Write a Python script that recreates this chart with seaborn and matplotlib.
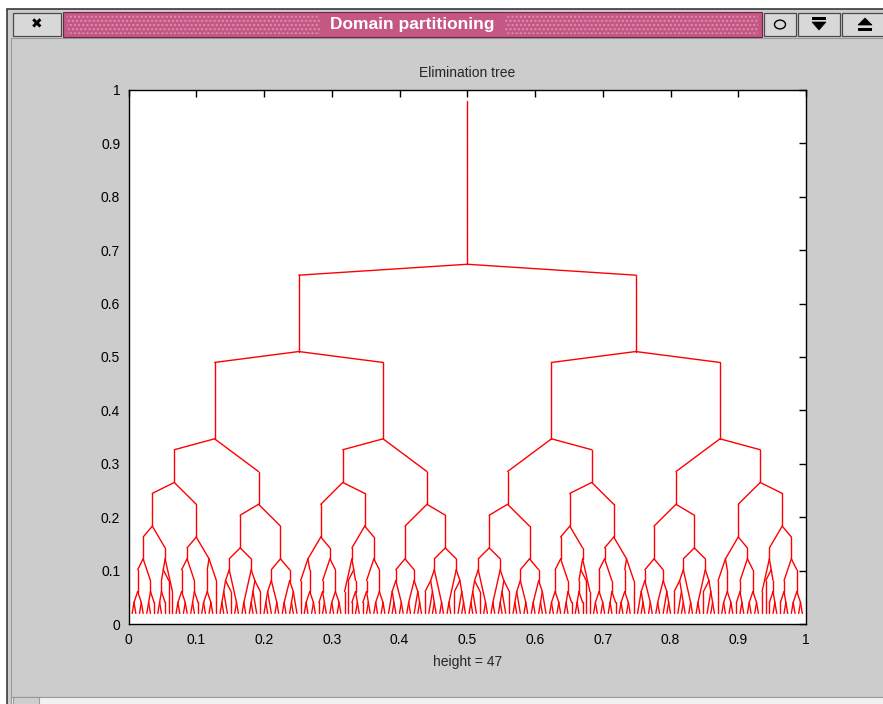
import matplotlib
matplotlib.use("Agg")
import matplotlib.pyplot as plt
from matplotlib.patches import Rectangle, Polygon, Circle
import numpy as np
import pandas as pd
import seaborn as sns

# ---------------------------------------------------------------------------
# Elimination tree, written as nested (chain_length, [children]) pieces.
# A piece is a vertical chain of nodes whose last node carries the children.
# ---------------------------------------------------------------------------
# small blocks near the leaves
LEAF = (1, [])
P2 = (2, [])
P3 = (3, [])
P4 = (4, [])
LAM = (1, [LEAF, LEAF])
FORK = (1, [LAM, LEAF])
H3 = (2, [LAM, P2])
K3 = (1, [FORK, P3])
B3 = (3, [LAM, LAM])
K4 = (2, [FORK, LAM])
K4B = (2, [LAM, FORK])
M4 = (1, [H3, P4])
N5 = (2, [H3, P3])
R5 = (1, [B3, P4])
G5 = (2, [K3, LAM])
G5B = (2, [LAM, K3])

# mid-level subtrees
A1 = (4, [(3, [B3, H3]), (2, [M4, P3])])
A2 = (4, [(2, [B3, H3]), R5])
B1 = (4, [G5, G5B])
B2 = (4, [K4, K4B])
DEEP = (4, [A1, A2])
SHALLOW = (4, [B1, B2])


def mirrored(piece):
    n, kids = piece
    return (n, [mirrored(k) for k in reversed(kids)])


# separators of the top levels
QUARTER_1 = (8, [DEEP, SHALLOW])
QUARTER_2 = (8, [mirrored(DEEP), mirrored(SHALLOW)])
HALF = (8, [QUARTER_1, QUARTER_2])
ROOT = (16, [HALF, mirrored(HALF)])

# --- build parent array --------------------------------------------------
parent = []


def add(piece, par):
    n, kids = piece
    prev = par
    for _ in range(n):
        parent.append(prev)
        prev = len(parent) - 1
    for k in kids:
        add(k, prev)


add(ROOT, -1)
N = len(parent)
children = [[] for _ in range(N)]
for i, p in enumerate(parent):
    if p >= 0:
        children[p].append(i)

# --- tree layout (leaves evenly spaced, nodes placed by height) -----------
height = np.zeros(N, dtype=int)
xmin = np.full(N, np.inf)
xmax = np.full(N, -np.inf)
leaf_no = 0
for i in range(N):
    if not children[i]:
        leaf_no += 1
        xmin[i] = xmax[i] = leaf_no
n_leaves = leaf_no
for i in range(N - 1, -1, -1):
    p = parent[i]
    if p >= 0:
        height[p] = max(height[p], height[i] + 1)
        xmin[p] = min(xmin[p], xmin[i])
        xmax[p] = max(xmax[p], xmax[i])
tree_h = int(height[0])
xs = (xmin + xmax) / 2 / (n_leaves + 1)
ys = (height + 1) / (tree_h + 2)

rows = []
for i, p in enumerate(parent):
    if p >= 0:
        rows.append((i, xs[p], ys[p]))
        rows.append((i, xs[i], ys[i]))
edges = pd.DataFrame(rows, columns=["edge", "x", "y"])

# --- figure ---------------------------------------------------------------
sns.set_theme(style="white")
plt.rcParams["font.family"] = ["Liberation Sans", "DejaVu Sans"]

W, H = 883, 704
fig = plt.figure(figsize=(W / 100, H / 100), dpi=100)
fig.patch.set_facecolor("white")


def box(x0, y0, x1, y1, **kw):
    fig.add_artist(Rectangle((x0 / W, 1 - y1 / H), (x1 - x0) / W, (y1 - y0) / H,
                             transform=fig.transFigure, zorder=-5, **kw))


def poly(pts, **kw):
    fig.add_artist(Polygon([(x / W, 1 - y / H) for x, y in pts],
                           transform=fig.transFigure, zorder=-4, **kw))


# window frame and body
box(7, 9, 884, 705, facecolor="#cccccc", edgecolor="#3a3a3a", lw=1.2)
box(11, 38, 884, 697, facecolor="#cccccc", edgecolor="#9a9a9a", lw=0.8)
box(11, 697, 884, 705, facecolor="#f2f2f2", edgecolor="#9a9a9a", lw=0.8)
box(13, 697, 39, 705, facecolor="#cfcfcf", edgecolor="#9a9a9a", lw=0.8)

# title bar
box(63, 12, 762, 37, facecolor="#c45784", edgecolor="#6a2a44", lw=0.8)
box(67, 15, 320, 34, facecolor="none", edgecolor="#dc8fae", lw=0, hatch="....")
box(505, 15, 758, 34, facecolor="none", edgecolor="#dc8fae", lw=0, hatch="....")
fig.text(412 / W, 1 - 24 / H, "Domain partitioning", color="white",
         fontsize=12.5, fontweight="bold", ha="center", va="center")

# buttons
for x0, x1 in [(13, 61), (764, 796), (798, 840), (842, 884)]:
    box(x0, 13, x1, 36, facecolor="#d8d8d8", edgecolor="#4a4a4a", lw=0.9)
fig.text(37 / W, 1 - 24.5 / H, "\u2716", color="black", fontsize=10,
         ha="center", va="center", family="DejaVu Sans")
fig.add_artist(Circle((780 / W, 1 - 24.5 / H), 5.5 / W, transform=fig.transFigure,
                      facecolor="none", edgecolor="black", lw=1.0))
poly([(812, 22), (826, 22), (819, 30)], facecolor="black", edgecolor="black", lw=0.5)
box(812, 17, 826, 19.5, facecolor="black", edgecolor="none")
poly([(858, 25), (872, 25), (865, 18)], facecolor="black", edgecolor="black", lw=0.5)
box(858, 28, 872, 30.5, facecolor="black", edgecolor="none")

# plot axes
ax_l, ax_r, ax_t, ax_b = 128.5, 806, 89.7, 624.3
ax = fig.add_axes([ax_l / W, 1 - ax_b / H, (ax_r - ax_l) / W, (ax_b - ax_t) / H])
ax.set_zorder(5)
ax.set_facecolor("white")

sns.lineplot(data=edges, x="x", y="y", units="edge", estimator=None, sort=False,
             color="#ff0000", lw=1.0, ax=ax, legend=False)

ticks = np.round(np.arange(0, 1.01, 0.1), 1)
labels = ["0"] + [f"{t:.1f}" for t in ticks[1:-1]] + ["1"]
ax.set_xlim(0, 1)
ax.set_ylim(0, 1)
ax.set_xticks(ticks)
ax.set_xticklabels(labels)
ax.set_yticks(ticks)
ax.set_yticklabels(labels)
ax.tick_params(direction="in", length=5, width=1, top=True, right=True,
               labelsize=10, colors="black", pad=6)
for s in ax.spines.values():
    s.set_color("black")
    s.set_linewidth(1.0)
ax.set_title("Elimination tree", fontsize=10, pad=9)
ax.set_xlabel(f"height = {tree_h}", fontsize=10, labelpad=6)
ax.set_ylabel("")

fig.savefig("out.png", dpi=100, facecolor=fig.get_facecolor())
